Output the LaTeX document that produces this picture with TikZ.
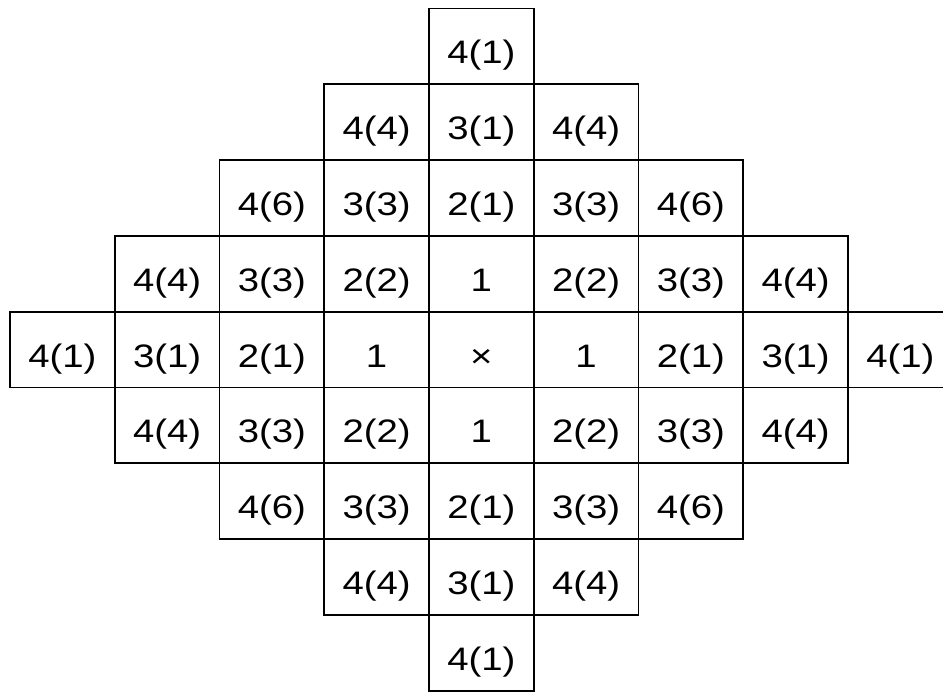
\documentclass[tikz,border=0pt]{standalone}
\usepackage{fontspec}
\setmainfont{Liberation Sans}
\usetikzlibrary{calc}

% labels in the reference are set wide
\newcommand{\stretchx}[1]{\scalebox{1.18}[1]{#1}}

\tikzset{
    cell/.style={draw=black, line width=1.9pt, inner sep=0pt,
        minimum width=104.75pt, minimum height=75.8pt,
        text height=35pt, text depth=0pt,
        font=\fontsize{32.5}{38}\selectfont},
}

\begin{document}
\begin{tikzpicture}[x=1pt, y=-1pt]
    \useasboundingbox (0,0) rectangle (943,693);

    % rows of the diamond: row / first column / labels
    \foreach \row/\first/\labels in {
        0/4/{4(1)},
        1/3/{4(4),3(1),4(4)},
        2/2/{4(6),3(3),2(1),3(3),4(6)},
        3/1/{4(4),3(3),2(2),1,2(2),3(3),4(4)},
        4/0/{4(1),3(1),2(1),1,×,1,2(1),3(1),4(1)},
        5/1/{4(4),3(3),2(2),1,2(2),3(3),4(4)},
        6/2/{4(6),3(3),2(1),3(3),4(6)},
        7/3/{4(4),3(1),4(4)},
        8/4/{4(1)}} {
        \foreach \lab [count=\k from 0] in \labels {
            \pgfmathtruncatemacro{\col}{\first+\k}
            \node[cell] (c-\row-\col) at ({10+104.75*(\col+0.5)}, {8.5+75.8*(\row+0.5)}) {\stretchx{\lab}};
        }
    }
\end{tikzpicture}
\end{document}
